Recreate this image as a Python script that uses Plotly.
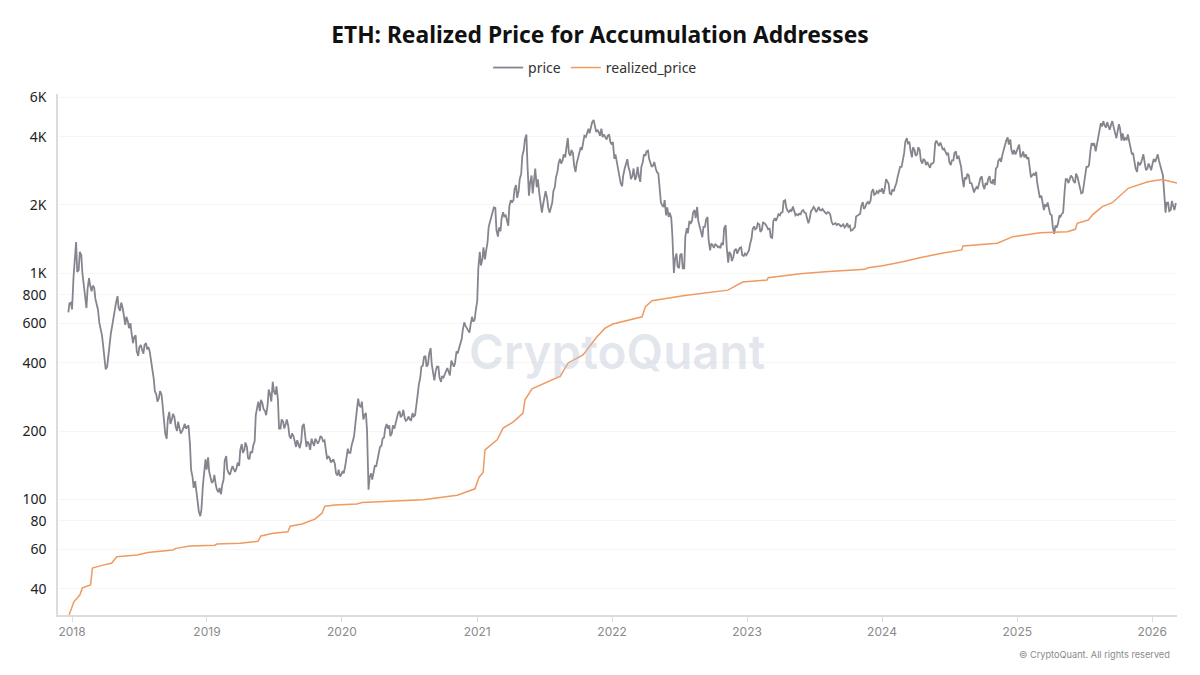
import pandas as pd
import plotly.graph_objects as go

# weekly closes, first point 2017-12-22
price = [
    670, 740,
    # 2018
    960, 1370, 1030, 1200, 880, 700, 950, 830, 860, 720, 600, 530, 395, 385, 500, 590, 680, 790, 680, 700,
    590, 610, 600, 490, 530, 430, 480, 440, 490, 470, 410, 340, 290, 280, 290, 225, 185, 243, 225, 230,
    200, 205, 200, 215, 210, 175, 125, 120, 95, 84, 115,
    150,
    # 2019
    153, 125, 120, 115, 107, 105, 122, 155, 130, 135, 135, 137, 140, 175, 165, 170, 150, 160, 180, 255,
    245, 265, 245, 260, 290, 330, 290, 275, 205, 220, 215, 210, 185, 190, 170, 175, 180, 215, 170, 175,
    185, 172, 180, 182, 187, 182, 150, 152, 148, 143, 127, 126,
    # 2020
    133, 140, 167, 160, 180, 220, 278, 255, 225, 240, 110, 130, 132, 140, 160, 172, 187, 215, 212, 195,
    205, 225, 245, 235, 228, 225, 225, 240, 235, 290, 345, 390, 430, 395, 465, 350, 370, 385, 330, 345,
    365, 365, 410, 385, 450, 470, 510, 605, 570, 545, 640, 620,
    # 2021
    750, 1240, 1150, 1150, 1370, 1700, 1840, 1940, 1450, 1530, 1860, 1800, 1620, 2100, 2100, 2450, 2300,
    2750, 3500, 4100, 2200, 2700, 2700, 2400, 2250, 1850, 2200, 2150, 1850, 2050, 2400, 2800, 3200, 3150,
    3250, 3950, 3300, 3400, 2800, 3250, 3600, 3850, 4000, 4350, 4500, 4750, 4200, 4200, 4350, 4100, 3900,
    4100, 3700,
    # 2022
    3200, 3100, 2700, 2420, 2900, 3190, 2800, 2700, 2580, 2950, 2530, 3100, 3300, 3480, 3050, 3000, 2900,
    2750, 2050, 1960, 1800, 1770, 1750, 1000, 1220, 1050, 1220, 1050, 1580, 1700, 1700, 1900, 1960, 1600,
    1440, 1600, 1770, 1260, 1330, 1340, 1300, 1290, 1330, 1630, 1110, 1210, 1180, 1280, 1260, 1300, 1190,
    1200,
    # 2023
    1260, 1420, 1610, 1580, 1640, 1550, 1660, 1600, 1570, 1430, 1750, 1760, 1800, 1860, 2100, 1880, 1900,
    1970, 1800, 1800, 1820, 1900, 1840, 1660, 1880, 1960, 1860, 1960, 1890, 1870, 1830, 1850, 1680, 1650,
    1630, 1640, 1620, 1590, 1660, 1620, 1550, 1600, 1790, 1830, 2060, 1960, 2060, 2090, 2350, 2240, 2260,
    2300,
    # 2024
    2240, 2600, 2480, 2230, 2300, 2500, 2800, 2950, 3400, 3950, 3800, 3250, 3500, 3350, 3500, 3050, 3150,
    3100, 2920, 3050, 3750, 3750, 3780, 3500, 3450, 3400, 3000, 3150, 3450, 3300, 2950, 2400, 2600, 2700,
    2500, 2270, 2400, 2500, 2680, 2350, 2450, 2680, 2500, 2450, 2950, 3200, 3350, 3600, 3980, 3900, 3350,
    3350,
    # 2025
    3550, 3250, 3450, 3350, 3250, 2650, 2750, 2800, 2300, 2200, 1900, 1980, 1900, 1800, 1490, 1600, 1800,
    1830, 2300, 2600, 2600, 2650, 2500, 2650, 2400, 2270, 2600, 2950, 3500, 3700, 3450, 4000, 4600, 4700,
    4400, 4400, 4550, 4400, 3950, 4550, 3850, 3850, 3900, 3800, 3350, 3100, 2800, 3000, 3200, 3050, 2900,
    2950,
    # 2026
    3050, 3100, 3350, 2950, 2700, 1850, 2050, 1900, 1950, 2040,
]
# swing in the middle of each week, same row layout as price
price_mid = [
    735, 690,
    # 2018
    1150, 1010, 1240, 1000, 760, 850, 880, 880, 770, 690, 570, 480, 375, 430, 540, 640, 740, 700, 740, 640,
    640, 570, 540, 520, 450, 470, 460, 480, 460, 450, 380, 300, 270, 300, 260, 195, 225, 215, 238, 210,
    220, 195, 208, 205, 212, 135, 112, 110, 88, 90, 135,
    135,
    # 2019
    132, 118, 128, 110, 112, 115, 148, 135, 128, 140, 132, 145, 165, 160, 178, 152, 162, 172, 235, 270,
    275, 250, 235, 305, 270, 300, 315, 205, 225, 205, 225, 190, 195, 178, 182, 168, 210, 190, 180, 165,
    178, 185, 176, 190, 180, 165, 155, 145, 150, 130, 135, 128,
    # 2020
    130, 150, 160, 172, 190, 245, 260, 270, 235, 200, 125, 122, 140, 150, 170, 185, 205, 205, 190, 212,
    215, 240, 230, 248, 222, 232, 222, 232, 265, 320, 385, 425, 385, 440, 395, 335, 385, 345, 350, 355,
    380, 352, 395, 400, 440, 480, 560, 585, 555, 590, 610, 680,
    # 2021
    1050, 1080, 1300, 1250, 1600, 1760, 1950, 1550, 1590, 1750, 1780, 1720, 1980, 2050, 2350, 2150, 2600,
    3300, 3900, 3000, 2500, 2250, 2900, 2600, 2000, 2000, 2300, 1950, 1950, 2300, 2650, 3050, 3050, 3350,
    3550, 3400, 3500, 3000, 3050, 3450, 3500, 4050, 4200, 4150, 4650, 4500, 4300, 4050, 4000, 4000, 4050,
    3800, 3800,
    # 2022
    3350, 2950, 2500, 2700, 3050, 2950, 2600, 2900, 2650, 2700, 2950, 3350, 3450, 3200, 2950, 3100, 2800,
    2350, 2000, 2100, 1950, 1850, 1450, 1150, 1070, 1200, 1050, 1450, 1500, 1650, 1850, 1750, 1700, 1500,
    1600, 1720, 1400, 1350, 1290, 1330, 1310, 1360, 1580, 1300, 1240, 1130, 1260, 1220, 1290, 1200, 1220,
    1220,
    # 2023
    1340, 1560, 1560, 1660, 1520, 1680, 1640, 1560, 1440, 1700, 1700, 1820, 1850, 2080, 1950, 1860, 1870,
    1880, 1820, 1830, 1880, 1850, 1750, 1730, 1900, 1930, 1900, 1900, 1920, 1850, 1860, 1810, 1640, 1660,
    1650, 1610, 1640, 1610, 1600, 1540, 1580, 1780, 1810, 1980, 1920, 2030, 2020, 2280, 2220, 2300, 2320,
    2370,
    # 2024
    2350, 2530, 2250, 2340, 2400, 2650, 2950, 3150, 3800, 3750, 3500, 3600, 3300, 3600, 3150, 3200, 3000,
    3000, 3050, 3100, 3850, 3650, 3650, 3550, 3350, 3100, 3150, 3400, 3200, 3100, 2650, 2650, 2750, 2500,
    2400, 2350, 2350, 2620, 2450, 2500, 2600, 2520, 2600, 2900, 3150, 3100, 3500, 3850, 3700, 3500, 3500,
    3450,
    # 2025
    3700, 3300, 3250, 3200, 2900, 2700, 2700, 2500, 2150, 2050, 2000, 2050, 1820, 1600, 1620, 1650, 1780,
    1850, 2600, 2500, 2700, 2550, 2750, 2500, 2250, 2450, 2950, 3000, 3750, 3750, 3650, 4300, 4450, 4500,
    4650, 4300, 4700, 4150, 4200, 4350, 4150, 3950, 4100, 3500, 3400, 2900, 3100, 3050, 3350, 2850, 3050,
    2850,
    # 2026
    3200, 3250, 3150, 2900, 2300, 2050, 1880, 2080, 1900,
]
assert len(price_mid) == len(price) - 1

price_dates = pd.date_range("2017-12-22", periods=len(price), freq="7D")
mid_dates = price_dates[:-1] + pd.Timedelta(days=3)
price_df = pd.concat([
    pd.DataFrame({"date": price_dates, "price": price}),
    pd.DataFrame({"date": mid_dates, "price": price_mid}),
]).sort_values("date")

realized_dates = [
    "2017-12-24", "2018-01-06", "2018-01-22", "2018-01-29", "2018-02-20", "2018-02-25", "2018-03-25",
    "2018-04-18", "2018-05-02", "2018-06-26", "2018-07-25", "2018-10-01", "2018-10-09", "2018-11-16",
    "2019-01-22", "2019-01-28", "2019-04-01", "2019-05-19", "2019-05-27", "2019-06-29", "2019-08-08",
    "2019-08-14", "2019-09-15", "2019-10-20", "2019-11-08", "2019-11-16", "2019-12-13", "2020-02-10",
    "2020-02-24", "2020-06-06", "2020-08-07", "2020-11-08", "2020-12-26", "2021-01-06", "2021-01-17",
    "2021-01-22", "2021-02-24", "2021-03-12", "2021-04-08", "2021-05-05", "2021-05-10", "2021-05-29",
    "2021-07-12", "2021-08-14", "2021-09-04", "2021-10-14", "2021-11-21", "2021-12-13", "2022-01-03",
    "2022-03-17", "2022-03-23", "2022-04-01", "2022-04-19", "2022-07-12", "2022-11-10", "2022-12-20",
    "2023-02-24", "2023-02-27", "2023-05-25", "2023-07-31", "2023-11-16", "2023-11-24", "2024-01-03",
    "2024-02-26", "2024-04-12", "2024-06-11", "2024-08-04", "2024-08-07", "2024-11-08", "2024-12-20",
    "2025-03-04", "2025-05-16", "2025-06-07", "2025-06-12", "2025-07-12", "2025-07-25", "2025-08-19",
    "2025-09-15", "2025-10-28", "2025-12-20", "2026-01-28", "2026-03-09",
]
realized_price = [
    30.7, 35.1, 37.6, 40.5, 41.7, 49.5, 51, 52, 55.5, 56.5, 58, 59.5, 60.5, 62,
    62.5, 63.2, 63.8, 65, 68.7, 70.5, 71.7, 75.8, 77.5, 81.5, 86.6, 93, 94, 95,
    96.6, 98, 99.4, 104, 111, 125, 131, 165, 183, 206, 219, 240, 274, 307,
    331, 350, 400, 434, 522, 570, 595, 638, 640, 710, 754, 794, 840, 912,
    931, 954, 993, 1013, 1038, 1055, 1077, 1122, 1169, 1222, 1265, 1318, 1354, 1448,
    1508, 1523, 1561, 1659, 1716, 1818, 1967, 2047, 2370, 2536, 2592, 2500,
]

y_ticks = [40, 60, 80, 100, 200, 400, 600, 800, 1000, 2000, 4000, 6000]
y_labels = ["40", "60", "80", "100", "200", "400", "600", "800", "1K", "2K", "4K", "6K"]

fig = go.Figure()
fig.add_trace(go.Scatter(x=price_df["date"], y=price_df["price"], name="price", mode="lines",
                         line=dict(color="#85858f", width=1.8)))
fig.add_trace(go.Scatter(x=realized_dates, y=realized_price, name="realized_price", mode="lines",
                         line=dict(color="#ee9a60", width=1.5)))

fig.update_layout(
    width=1200, height=675,
    margin=dict(l=58, r=23, t=94, b=60),
    paper_bgcolor="white", plot_bgcolor="white",
    font=dict(family="Noto Sans", color="#222222"),
    title=dict(text="<b>ETH: Realized Price for Accumulation Addresses</b>",
               x=0.5, xanchor="center", y=0.948, yanchor="middle",
               font=dict(size=22.8, color="#111111")),
    legend=dict(orientation="h", x=0.48, xanchor="center", y=1.05, yanchor="middle",
                font=dict(size=14, color="#333333")),
)
fig.update_xaxes(
    range=["2017-11-24", "2026-03-09"],
    dtick="M12", tick0="2018-01-01", tickformat="%Y",
    showgrid=False, showline=True, linecolor="#dcdcdc", linewidth=1.5,
    ticks="outside", ticklen=5, tickcolor="#dcdcdc",
    tickfont=dict(family="Inter", size=12, color="#8a8a8a"),
)
fig.update_yaxes(
    type="log", range=[1.487, 3.792],
    tickvals=y_ticks, ticktext=y_labels,
    showgrid=True, gridcolor="#f6f6f6", gridwidth=1, zeroline=False,
    showline=True, linecolor="#dcdcdc", linewidth=1.5,
    ticks="", ticklabelstandoff=7, tickfont=dict(size=14, color="#222222"),
)
fig.add_annotation(text="CryptoQuant", xref="paper", yref="paper", x=0.4996, y=0.505,
                   showarrow=False,
                   font=dict(family="Inter", size=47.5, weight=600, color="rgba(190,195,212,0.42)"))
fig.add_annotation(text="© CryptoQuant. All rights reserved", xref="paper", yref="paper",
                   x=0.9955, y=-0.075, xanchor="right", yanchor="middle", showarrow=False,
                   font=dict(family="Inter", size=9.2, color="#8a8a8a"))

fig.write_html("out.html", config={"displayModeBar": False},
               post_script="document.body.style.margin = '0';")
